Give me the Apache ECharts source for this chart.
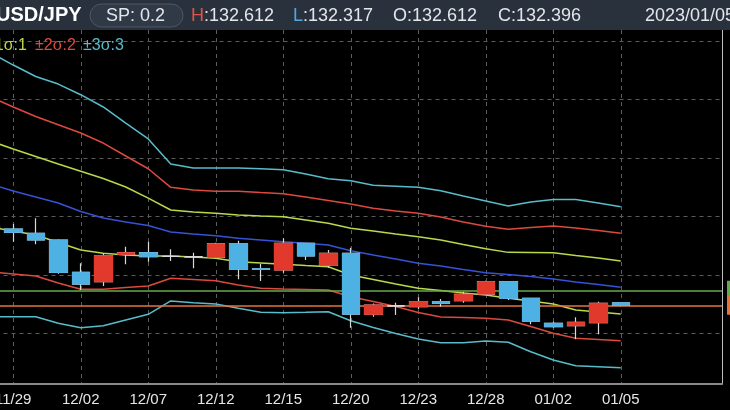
<!DOCTYPE html>
<html><head><meta charset="utf-8">
<script src="https://cdn.jsdelivr.net/npm/echarts@6/dist/echarts.min.js"></script>
<style>html,body{margin:0;padding:0;background:#000;}#c{width:730px;height:410px;}</style>
</head><body><div id="c"></div>
<script>
// categories (first one is partly off-screen, last four are empty future slots)
const dates = ['11/28','11/29','11/30','12/01','12/02','12/05','12/06','12/07','12/08','12/09','12/12','12/13','12/14','12/15','12/16','12/19','12/20','12/21','12/22','12/23','12/26','12/27','12/28','12/29','12/30','01/02','01/03','01/04','01/05','','','',''];
// daily OHLC
const opens  = [139.15,138.93,138.56,137.99,135.22,134.42,136.76,136.90,136.58,136.55,136.51,137.65,135.53,135.42,137.71,135.82,136.85,131.63,132.35,132.28,132.71,132.79,133.36,134.42,133.00,130.86,130.65,130.91,132.612];
const closes = [138.93,138.65,137.99,135.22,134.22,136.64,136.90,136.56,136.58,136.55,137.65,135.50,135.47,137.71,136.62,136.85,131.65,132.42,132.35,132.71,132.57,133.34,134.42,133.00,131.05,130.57,130.94,132.57,132.396];
const lows   = [137.50,137.84,137.62,135.10,133.71,134.05,135.91,136.13,136.19,135.56,136.40,134.62,134.48,135.19,136.28,135.62,130.48,131.42,131.57,132.05,132.28,132.62,133.30,132.85,130.77,130.48,129.49,129.91,132.317];
const highs  = [139.60,139.35,139.85,138.05,135.99,136.85,137.41,137.84,137.19,136.90,137.76,137.93,135.93,138.13,137.76,137.13,137.33,132.55,132.62,133.08,132.94,133.56,134.50,134.45,133.05,130.99,131.37,132.71,132.612];
// Bollinger bands
const ma  = [142.78,142.18,141.67,141.16,140.43,139.87,139.53,139.23,138.67,138.50,138.36,138.13,137.99,137.84,137.71,137.56,137.07,136.70,136.36,135.99,135.76,135.46,135.19,135.03,134.86,134.65,134.39,134.18,133.94];
const up1 = [146.46,145.78,145.14,144.49,143.87,143.25,142.53,141.58,140.56,140.39,140.27,140.13,140.04,139.98,139.70,139.42,138.99,138.76,138.50,138.27,137.99,137.60,137.24,136.93,136.92,136.90,136.66,136.45,136.19];
const lo1 = [139.10,138.76,138.42,137.77,137.13,136.85,136.70,136.62,136.62,136.53,136.42,136.13,136.02,135.91,135.80,135.70,134.99,134.61,134.22,133.85,133.66,133.45,133.28,133.00,132.77,132.51,131.99,131.82,131.65];
const up2 = [150.23,149.38,148.56,147.86,147.15,146.29,145.18,144.09,142.50,142.27,142.16,142.16,142.05,141.95,141.67,141.37,141.07,140.70,140.47,140.27,139.96,139.53,139.16,138.90,139.06,139.19,139.02,138.80,138.56];
const lo2 = [135.25,135.08,134.91,134.31,133.77,133.77,133.92,134.05,134.71,134.61,134.50,134.14,133.85,133.79,133.75,133.71,133.13,132.72,132.29,131.78,131.40,131.35,131.28,131.14,130.58,130.00,129.57,129.47,129.37];
const up3 = [154.00,152.97,151.99,151.34,150.43,149.38,148.00,146.64,144.49,144.15,144.15,144.15,144.09,144.01,143.64,143.24,143.07,142.67,142.59,142.50,142.21,141.76,141.33,140.90,141.24,141.46,141.46,141.16,140.84];
const lo3 = [131.42,131.42,131.42,130.86,130.48,130.65,131.14,131.63,132.77,132.62,132.51,132.14,131.80,131.76,131.80,131.85,131.08,130.50,129.98,129.51,129.20,129.20,129.34,129.23,128.42,127.71,127.23,127.14,127.05];
// horizontal levels
const levelGreen = 133.68;
const levelPrice = 132.396;
// header texts
const headerSymbol = 'USD/JPY';
const headerSpread = 'SP: 0.2';
const headerHigh = '132.612', headerLow = '132.317', headerOpen = '132.612', headerClose = '132.396';
const headerDate = '2023/01/05';
const legendTexts = ['±1σ:1', '±2σ:2', '±3σ:3'];

const C_UP = '#e2392d', C_DN = '#4db1e3', C_WICK = '#d9d9d9';
const C_MA = '#3652d6', C_S1 = '#b9d94a', C_S2 = '#dc4a3f', C_S3 = '#58bccb';

const candleFull = opens.map((o, i) => [o, closes[i], lows[i], highs[i]]);
const candleBody = opens.map((o, i) => [o, closes[i], Math.min(o, closes[i]), Math.max(o, closes[i])]);
const labelOn = (idx) => idx >= 1 && idx <= 28 && (idx - 1) % 3 === 0;

const chart = echarts.init(document.getElementById('c'), null, {renderer: 'canvas'});
const hdrFont = '18px "Liberation Sans", Arial, sans-serif';
const lineSeries = (name, data, color) => ({
  name, type: 'line', data, symbol: 'none', smooth: false, z: 3,
  lineStyle: {color, width: 1.5}, itemStyle: {color}
});
chart.setOption({
  backgroundColor: '#000',
  animation: false,
  grid: {left: -20.5, top: 30, width: 742.5, height: 354, containLabel: false, outerBoundsMode: 'none'},
  xAxis: {
    type: 'category', data: dates, boundaryGap: true,
    axisLine: {show: true, lineStyle: {color: '#8a8a8a', width: 2}},
    axisTick: {show: false},
    axisLabel: {interval: labelOn, color: '#e6e6e6', fontSize: 15, margin: 8,
      fontFamily: '"Liberation Sans Narrow", "Liberation Sans", sans-serif'},
    splitLine: {show: true, interval: labelOn, alignWithLabel: true,
      lineStyle: {color: '#5c5c5c', type: [4, 4], width: 1}}
  },
  yAxis: {
    type: 'value', position: 'right', min: 125.66, max: 155.97, splitNumber: 6, scale: true,
    axisLine: {show: true, lineStyle: {color: '#bdbdbd', width: 1}},
    axisTick: {show: false}, axisLabel: {show: false},
    splitLine: {show: true, showMinLine: false, showMaxLine: false,
      lineStyle: {color: '#5c5c5c', type: [4, 4], width: 1}}
  },
  series: [
    lineSeries('+3σ', up3, C_S3), lineSeries('-3σ', lo3, C_S3),
    lineSeries('+2σ', up2, C_S2), lineSeries('-2σ', lo2, C_S2),
    lineSeries('+1σ', up1, C_S1), lineSeries('-1σ', lo1, C_S1),
    lineSeries('MA', ma, C_MA),
    {
      type: 'line', data: [], z: 2, symbol: 'none',
      markLine: {
        symbol: 'none', silent: true, animation: false,
        data: [
          {yAxis: levelGreen, lineStyle: {color: '#68a94c', type: 'solid', width: 1.5},
           label: {show: true, position: 'end', distance: 5, formatter: '{c}', color: '#fff',
             backgroundColor: '#68a94c', padding: [3, 4], fontSize: 13}},
          {yAxis: levelPrice, lineStyle: {color: '#e6733c', type: 'solid', width: 1.5},
           label: {show: true, position: 'end', distance: 5, formatter: '{c}', color: '#fff',
             backgroundColor: '#e6733c', padding: [3, 4], fontSize: 13}}
        ]
      }
    },
    {
      type: 'candlestick', data: candleFull, barWidth: 18, z: 5,
      itemStyle: {color: C_UP, color0: C_DN, borderColor: C_WICK, borderColor0: C_WICK,
        borderColorDoji: C_WICK, borderWidth: 1.2}
    },
    {
      type: 'candlestick', data: candleBody, barWidth: 18, z: 6,
      itemStyle: {color: C_UP, color0: C_DN, borderColor: C_UP, borderColor0: C_DN,
        borderColorDoji: C_WICK, borderWidth: 1}
    }
  ],
  graphic: [
    {type: 'rect', z: 100, shape: {x: 0, y: 0, width: 730, height: 30}, style: {fill: '#29313d'}},
    {type: 'rect', z: 101, shape: {x: 90, y: 4, width: 93, height: 23, r: 11.5},
      style: {fill: '#303a47', stroke: '#4c5766', lineWidth: 1}},
    {type: 'text', z: 102, x: -4, y: 15, style: {text: headerSymbol, fill: '#ffffff',
      font: 'bold 20px "Liberation Sans", Arial, sans-serif', verticalAlign: 'middle'}},
    {type: 'text', z: 102, x: 106, y: 16, style: {text: headerSpread, fill: '#e3e6ea', font: hdrFont, verticalAlign: 'middle'}},
    {type: 'text', z: 102, x: 191, y: 16, style: {text: 'H', fill: '#e0524a', font: hdrFont, verticalAlign: 'middle'}},
    {type: 'text', z: 102, x: 204, y: 16, style: {text: ':' + headerHigh, fill: '#e3e6ea', font: hdrFont, verticalAlign: 'middle'}},
    {type: 'text', z: 102, x: 293, y: 16, style: {text: 'L', fill: '#4fa9e0', font: hdrFont, verticalAlign: 'middle'}},
    {type: 'text', z: 102, x: 303, y: 16, style: {text: ':' + headerLow, fill: '#e3e6ea', font: hdrFont, verticalAlign: 'middle'}},
    {type: 'text', z: 102, x: 393, y: 16, style: {text: 'O:' + headerOpen, fill: '#e3e6ea', font: hdrFont, verticalAlign: 'middle'}},
    {type: 'text', z: 102, x: 498, y: 16, style: {text: 'C:' + headerClose, fill: '#e3e6ea', font: hdrFont, verticalAlign: 'middle'}},
    {type: 'text', z: 102, x: 645, y: 16, style: {text: headerDate, fill: '#e3e6ea', font: hdrFont, verticalAlign: 'middle'}},
    {type: 'text', z: 102, x: -14, y: 46, style: {text: legendTexts[0], fill: C_S1, font: '16px "Liberation Sans", Arial, sans-serif', verticalAlign: 'middle'}},
    {type: 'text', z: 102, x: 35, y: 46, style: {text: legendTexts[1], fill: C_S2, font: '16px "Liberation Sans", Arial, sans-serif', verticalAlign: 'middle'}},
    {type: 'text', z: 102, x: 83, y: 46, style: {text: legendTexts[2], fill: C_S3, font: '16px "Liberation Sans", Arial, sans-serif', verticalAlign: 'middle'}}
  ]
});
</script></body></html>
